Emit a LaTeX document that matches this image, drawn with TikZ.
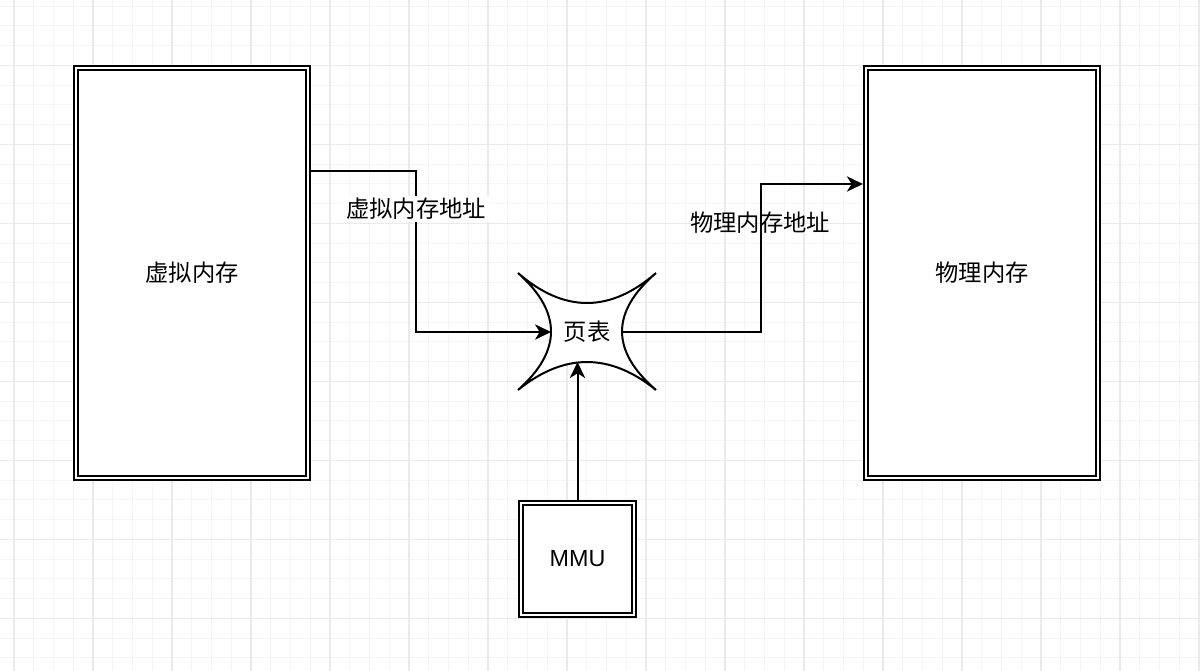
\documentclass[tikz,border=0pt]{standalone}
\usepackage{fontspec}
\setmainfont{Liberation Sans}
\newfontfamily\cjk{Noto Sans CJK SC}
\usetikzlibrary{arrows.meta,calc}
\definecolor{gridmajor}{HTML}{EAEAEA}
\definecolor{gridminor}{HTML}{F5F5F5}
\begin{document}
\begin{tikzpicture}[x=0.75pt,y=-0.75pt,
  dbox/.style={draw=black, line width=1.7pt, double=white, double distance=1.2pt,
    fill=white, inner sep=0pt, outer sep=2.3pt,
    font=\cjk\fontsize{17.5pt}{21pt}\selectfont},
  conn/.style={draw=black, line width=1.5pt},
  tip/.style={-{Stealth[length=12pt,width=11.5pt,inset=3.5pt]}},
  lbl/.style={inner sep=1pt, font=\cjk\fontsize{17.5pt}{21pt}\selectfont},
  starline/.style={draw=black, line width=1.5pt, fill=white}
]
\useasboundingbox (0,0) rectangle (1200,671);
\fill[white] (0,0) rectangle (1200,671);
% grid
\foreach \i in {0,...,60} \draw[gridminor, line width=0.75pt] ({14+19.75*\i},0) -- ({14+19.75*\i},671);
\foreach \j in {0,...,33} \draw[gridminor, line width=0.75pt] (0,{6.05+19.75*\j}) -- (1200,{6.05+19.75*\j});
\foreach \i in {0,...,15} \draw[gridmajor, line width=0.9pt] ({14+79*\i},0) -- ({14+79*\i},671);
\foreach \j in {0,...,7} \draw[gridmajor, line width=0.9pt] (0,{65.3+79*\j}) -- (1200,{65.3+79*\j});

% boxes
\node[dbox, minimum width=174pt, minimum height=307.5pt] (L) at (192,273) {虚拟内存};
\node[dbox, minimum width=174pt, minimum height=307.5pt] (R) at (982,273) {物理内存};
\node[dbox, minimum width=84.75pt, minimum height=84pt, font=\fontsize{17.5pt}{21pt}\selectfont] (M) at (577.5,559) {MMU};

% star (page table)
\draw[starline] (518,273) .. controls (564,313) and (610,313) .. (656,273)
  .. controls (610.7,312) and (610.7,351) .. (656,390)
  .. controls (610,352.7) and (564,352.7) .. (518,390)
  .. controls (562,351) and (562,312) .. cycle;
\node[lbl] (P) at (587,332) {页表};
\coordinate (sl) at (551,332);
\coordinate (sr) at (622,332);
\coordinate (sb) at (577.5,362);

% connectors
\draw[conn, tip] ([yshift=76.5pt]L.east) -- ++(105,0) |- (sl);
\draw[conn, tip] (sr) -- ++(139,0) |- ([yshift=66.75pt]R.west);
\draw[conn, tip] (M.north) -- (sb);

% labels
\node[lbl, fill=white, inner sep=2pt] (la) at (416,209) {虚拟内存地址};
\node[lbl] (lb) at (760,223) {物理内存地址};
\end{tikzpicture}
\end{document}
